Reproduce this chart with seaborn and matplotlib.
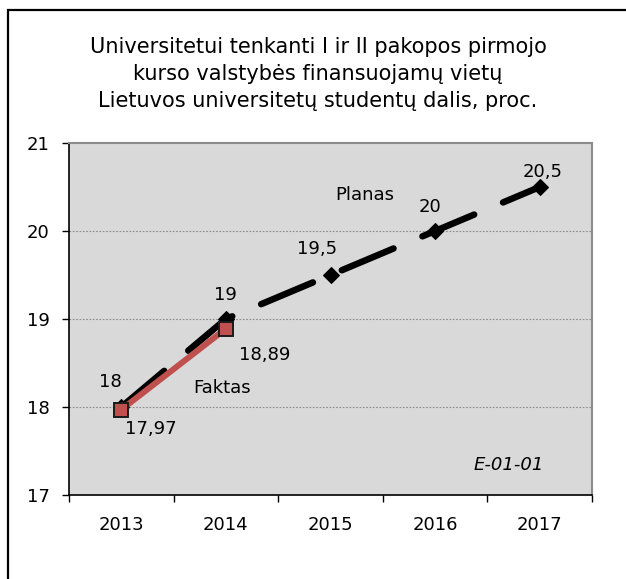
import matplotlib
matplotlib.use("Agg")
import matplotlib.pyplot as plt
import matplotlib.patches as mpatches
import seaborn as sns
import pandas as pd
import numpy as np

years = ["2013", "2014", "2015", "2016", "2017"]
planas = [18.0, 19.0, 19.5, 20.0, 20.5]
faktas_years = ["2013", "2014"]
faktas = [17.97, 18.89]
planas_labels = ["18", "19", "19,5", "20", "20,5"]
faktas_labels = ["17,97", "18,89"]
title = "Universitetui tenkanti I ir II pakopos pirmojo\nkurso valstybės finansuojamų vietų\nLietuvos universitetų studentų dalis, proc."

sns.set_theme(style="white")
plt.rcParams['font.family'] = ['DejaVu Sans']
plt.rcParams['text.color'] = 'black'
plt.rcParams['xtick.color'] = 'black'
plt.rcParams['ytick.color'] = 'black'
plt.rcParams['axes.labelcolor'] = 'black'

FS = 13

fig = plt.figure(figsize=(6.26, 5.79), dpi=100)
W, H = 626, 579
ax = fig.add_axes([69 / W, 1 - 495 / H, (592 - 69) / W, (495 - 143) / H])
ax.set_facecolor("#d9d9d9")

xpos = {y: i for i, y in enumerate(years)}
df_p = pd.DataFrame({"x": [xpos[y] for y in years], "v": planas})
df_f = pd.DataFrame({"x": [xpos[y] for y in faktas_years], "v": faktas})

# grid lines
for g in [18, 19, 20]:
    ax.axhline(g, color="#8c8c8c", lw=0.8, ls=(0, (1.5, 1.5)), zorder=1)

sns.lineplot(data=df_p, x="x", y="v", ax=ax, color="black", lw=4.7,
             marker="D", markersize=8.5, markeredgecolor="black",
             dashes=False, zorder=3, estimator=None)
pl = ax.lines[-1]
pl.set_linestyle((0, (8.6, 4.8)))
pl.set_dash_capstyle("round")

sns.lineplot(data=df_f, x="x", y="v", ax=ax, color="#c0504d", lw=4.3,
             marker="s", markersize=10, markeredgecolor="#1a1a1a",
             markeredgewidth=1.4, zorder=4, estimator=None)

# data labels
p_off = [(-8, 18), (0, 17), (-10, 19), (-4, 17), (2, 11)]
for i, (v, lab) in enumerate(zip(planas, planas_labels)):
    ax.annotate(lab, (i, v), xytext=p_off[i], textcoords="offset points",
                ha="center", va="center", fontsize=FS, color="black", zorder=5)
f_off = [(21, -14), (28, -19)]
for i, (v, lab) in enumerate(zip(faktas, faktas_labels)):
    ax.annotate(lab, (i, v), xytext=f_off[i], textcoords="offset points",
                ha="center", va="center", fontsize=FS, color="black", zorder=5)

ax.text(2.33, 20.41, "Planas", ha="center", va="center", fontsize=FS)
ax.text(0.96, 18.22, "Faktas", ha="center", va="center", fontsize=FS)
ax.text(3.70, 17.34, "E-01-01", ha="center", va="center", fontsize=FS, style="italic")

ax.set_xlim(-0.5, 4.5)
ax.set_ylim(17, 21)
ax.set_xlabel("")
ax.set_ylabel("")
ax.set_yticks([17, 18, 19, 20, 21])
ax.set_yticklabels(["17", "18", "19", "20", "21"], fontsize=FS)
ax.set_xticks(np.arange(-0.5, 5, 1))
ax.set_xticklabels([])
ax.set_xticks(range(len(years)), minor=True)
ax.set_xticklabels(years, minor=True, fontsize=FS)
ax.tick_params(axis="x", which="major", direction="out", length=5, width=1, color="black", bottom=True)
ax.tick_params(axis="x", which="minor", length=0, pad=15)
ax.tick_params(axis="y", direction="out", length=5, width=1, color="black", left=True, pad=9)

for s in ["left", "bottom"]:
    ax.spines[s].set_color("black")
    ax.spines[s].set_linewidth(1.2)
for s in ["top", "right"]:
    ax.spines[s].set_visible(True)
    ax.spines[s].set_color("#8c8c8c")
    ax.spines[s].set_linewidth(1.5)

fig.text(318 / W, 1 - 74 / H, title, ha="center", va="center", fontsize=15,
         linespacing=1.42, color="black")

border = mpatches.Rectangle((8 / W, -0.1), 1.2, 1.1 - 10 / H, transform=fig.transFigure,
                            fill=False, edgecolor="black", lw=1.6, zorder=10)
fig.patches.append(border)

fig.savefig("out.png", dpi=100)
